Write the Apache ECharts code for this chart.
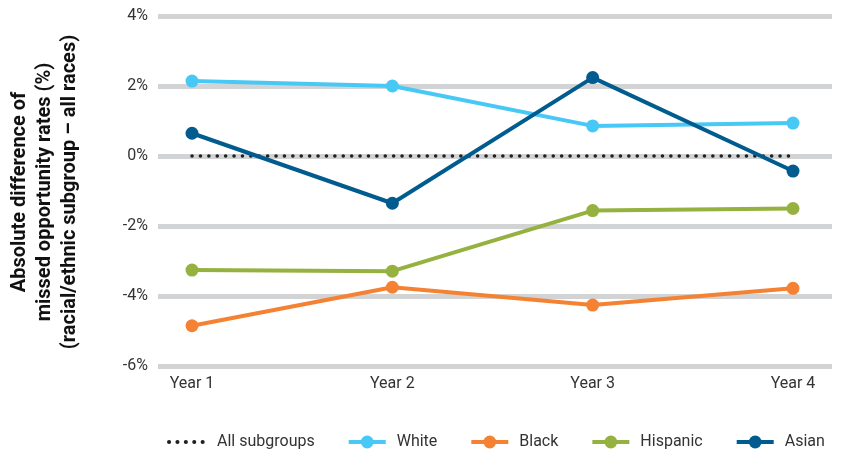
<!DOCTYPE html>
<html>
<head>
<meta charset="utf-8">
<script src="https://cdn.jsdelivr.net/npm/echarts@6/dist/echarts.min.js"></script>
<style>html,body{margin:0;padding:0;background:#fff;}#c{width:847px;height:452px;}</style>
</head>
<body>
<div id="c"></div>
<script>
const categories = ['Year 1', 'Year 2', 'Year 3', 'Year 4'];
const allSubgroups = [0, 0, 0, 0];
const white = [2.14, 2.0, 0.86, 0.94];
const black = [-4.85, -3.75, -4.26, -3.78];
const hispanic = [-3.26, -3.29, -1.56, -1.5];
const asian = [0.65, -1.35, 2.24, -0.43];
const yTicks = { min: -6, max: 4, interval: 2 };
const yTitle = 'Absolute difference of\nmissed opportunity rates (%)\n(racial/ethnic subgroup \u2013 all races)';

const FONT = 'Roboto';
const chart = echarts.init(document.getElementById('c'), null, { renderer: 'canvas' });

function lineSeries(name, data, color) {
  return {
    name, type: 'line', data, xAxisIndex: 1, yAxisIndex: 1,
    symbol: 'circle', symbolSize: 13,
    lineStyle: { color, width: 4 },
    itemStyle: { color },
    emphasis: { disabled: true }
  };
}

chart.setOption({
  animation: false,
  textStyle: { fontFamily: FONT },
  grid: [
    { left: 158, right: 15, top: 16, bottom: 86 },
    { left: 192, right: 54, top: 16, bottom: 86 }
  ],
  xAxis: [
    { gridIndex: 0, type: 'value', min: 0, max: 1, show: false },
    { gridIndex: 1, type: 'category', data: categories, boundaryGap: false,
      axisLine: { show: false }, axisTick: { show: false },
      axisLabel: { color: '#333', fontSize: 16, margin: 10, fontFamily: FONT } }
  ],
  yAxis: [
    { gridIndex: 0, type: 'value', min: yTicks.min, max: yTicks.max, interval: yTicks.interval,
      axisLine: { show: false }, axisTick: { show: false },
      axisLabel: { formatter: '{value}%', color: '#333', fontSize: 16, margin: 10, fontFamily: FONT },
      splitLine: { lineStyle: { color: '#D1D3D4', width: 5 } } },
    { gridIndex: 1, type: 'value', min: yTicks.min, max: yTicks.max, interval: yTicks.interval, show: false,
      splitLine: { show: false } }
  ],
  legend: {
    left: 162, top: 429, itemWidth: 37, itemHeight: 16, itemGap: 32,
    lineStyle: { width: 4 },
    textStyle: { color: '#333', fontSize: 16, fontFamily: FONT, padding: [0, 0, 0, 6] },
    data: [
      { name: 'All subgroups', itemStyle: { opacity: 0 } },
      'White', 'Black', 'Hispanic', 'Asian'
    ]
  },
  graphic: [{
    type: 'text', x: 45, y: 192, rotation: Math.PI / 2,
    style: { text: yTitle, textAlign: 'center', textVerticalAlign: 'middle',
      font: 'bold 20px Roboto', fill: '#111', lineHeight: 25 }
  }],
  series: [
    { name: 'All subgroups', type: 'line', data: allSubgroups, xAxisIndex: 1, yAxisIndex: 1,
      symbol: 'none', showSymbol: false,
      lineStyle: { color: '#231F20', width: 3.5, type: [0.1, 8.3], cap: 'round' },
      itemStyle: { color: '#231F20' }, emphasis: { disabled: true } },
    lineSeries('White', white, '#48C8F5'),
    lineSeries('Black', black, '#F58233'),
    lineSeries('Hispanic', hispanic, '#95B13F'),
    lineSeries('Asian', asian, '#005B8F')
  ]
});
</script>
</body>
</html>
